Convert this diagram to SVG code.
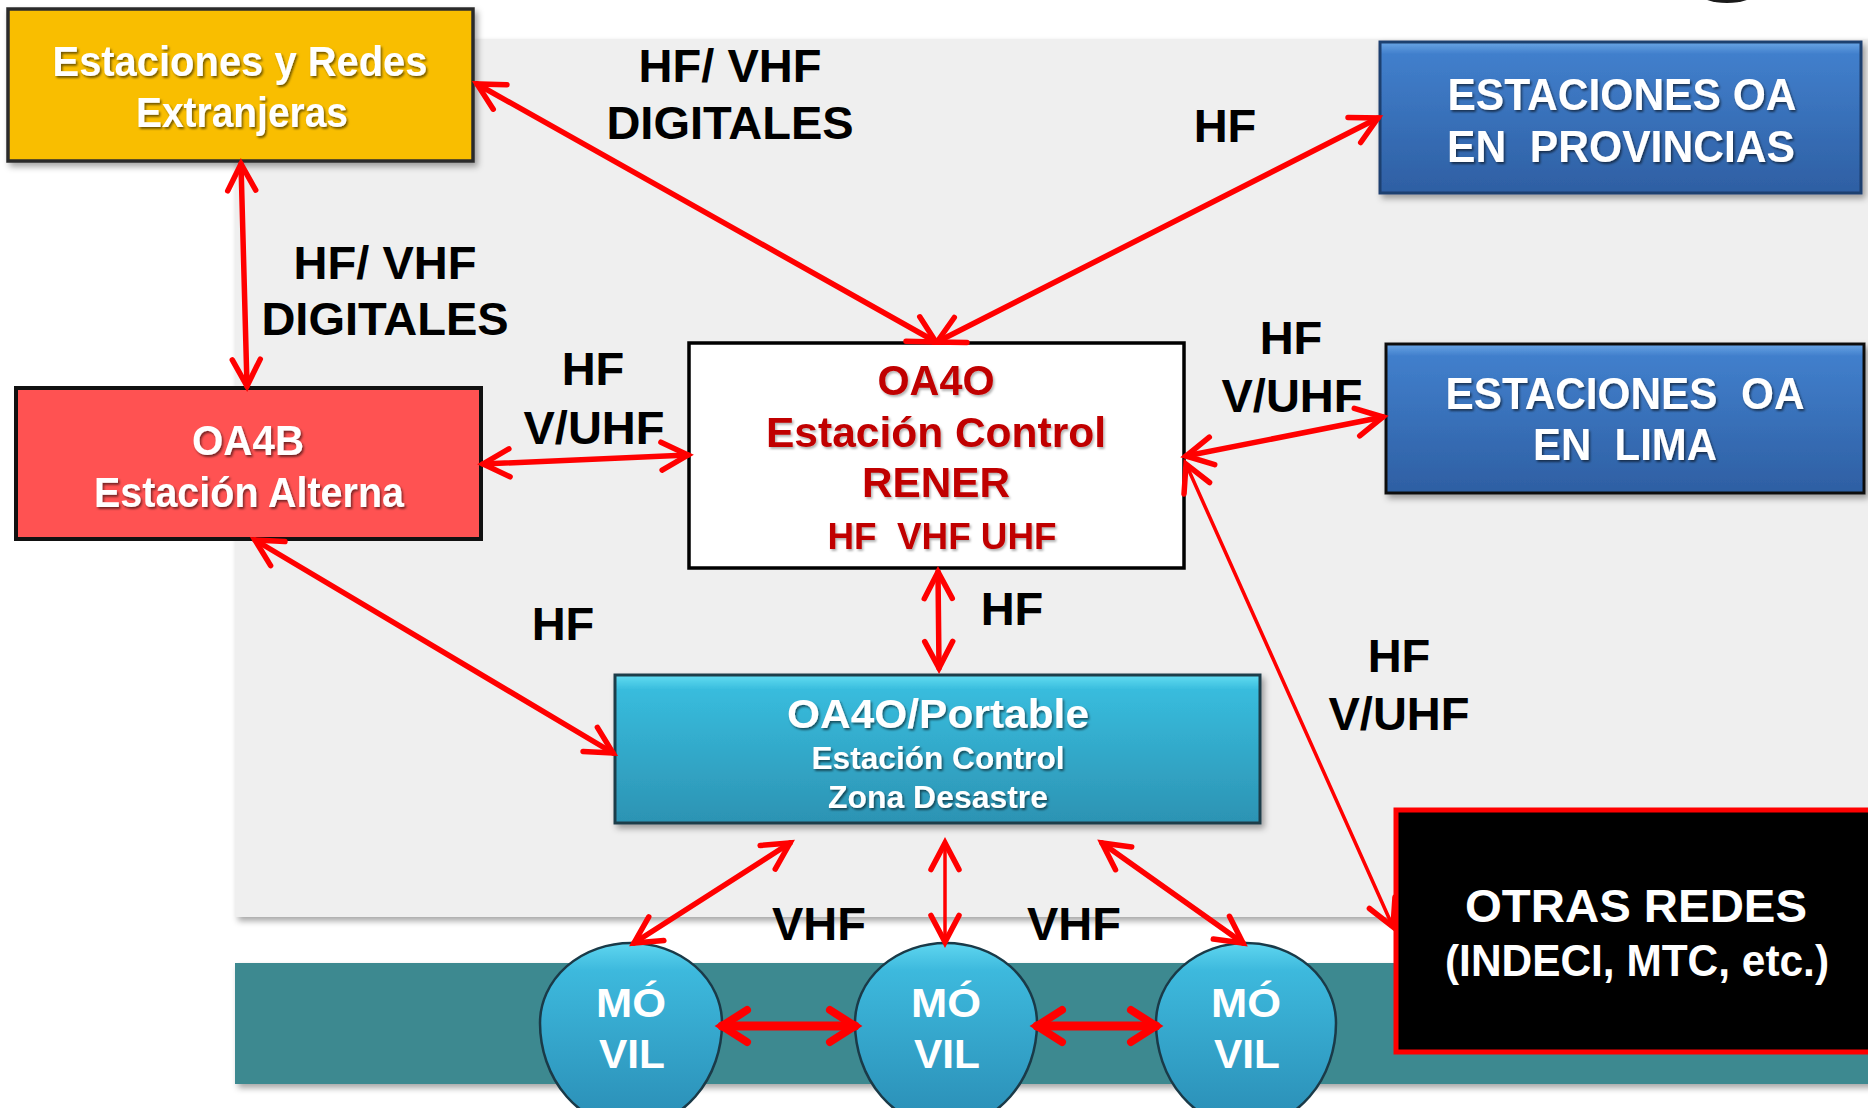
<svg xmlns="http://www.w3.org/2000/svg" width="1868" height="1108" viewBox="0 0 1868 1108">
<style>
.lbl{font-family:"Liberation Sans",Arial,sans-serif;font-weight:bold;font-size:47px;fill:#000;text-anchor:middle}
.wt{font-family:"Liberation Sans",Arial,sans-serif;font-weight:bold;fill:#fff;text-anchor:middle}
.rt{font-family:"Liberation Sans",Arial,sans-serif;font-weight:bold;fill:#C00000;text-anchor:middle}
.cn{fill:none;stroke:#FF0000;stroke-width:5.5;stroke-linecap:round}
.thin{stroke-width:3.5}
.thick{stroke-width:9}
.egg{fill:url(#ell);stroke:#1A3A48;stroke-width:2.5}
</style>
<defs>
<filter id="sh" x="-10%" y="-10%" width="125%" height="130%">
<feDropShadow dx="3" dy="4" stdDeviation="3" flood-color="#000" flood-opacity="0.35"/>
</filter>
<filter id="tsh" x="-10%" y="-20%" width="120%" height="150%">
<feDropShadow dx="1.5" dy="2" stdDeviation="1.2" flood-color="#000" flood-opacity="0.55"/>
</filter>
<filter id="rsh" x="-10%" y="-20%" width="120%" height="150%">
<feDropShadow dx="1.5" dy="2" stdDeviation="1.2" flood-color="#000" flood-opacity="0.3"/>
</filter>
<linearGradient id="blue" x1="0" y1="0" x2="0" y2="1">
<stop offset="0" stop-color="#6AA6E6"/>
<stop offset="0.08" stop-color="#417FCC"/>
<stop offset="1" stop-color="#2E5FA3"/>
</linearGradient>
<linearGradient id="cyan" x1="0" y1="0" x2="0" y2="1">
<stop offset="0" stop-color="#62DDF2"/>
<stop offset="0.1" stop-color="#38BCDD"/>
<stop offset="1" stop-color="#2C93B3"/>
</linearGradient>
<linearGradient id="ell" x1="0" y1="0" x2="0" y2="1">
<stop offset="0" stop-color="#5ED6F0"/>
<stop offset="0.15" stop-color="#3DB9DD"/>
<stop offset="1" stop-color="#2A8DB5"/>
</linearGradient>
<marker id="ah" markerUnits="userSpaceOnUse" viewBox="-32 -20 36 40" markerWidth="36" markerHeight="40" refX="0" refY="0" orient="auto-start-reverse" overflow="visible">
<path d="M-26.5,-14 L0,0 L-26.5,14" fill="none" stroke="#FF0000" stroke-width="5.5" stroke-linecap="round" stroke-linejoin="miter"/>
</marker>
<marker id="ahb" markerUnits="userSpaceOnUse" viewBox="-34 -22 38 44" markerWidth="38" markerHeight="44" refX="0" refY="0" orient="auto-start-reverse" overflow="visible">
<path d="M-25,-16 L0,0 L-25,16" fill="none" stroke="#FF0000" stroke-width="8" stroke-linecap="round" stroke-linejoin="miter"/>
</marker>
</defs>

<rect x="0" y="0" width="1868" height="1108" fill="#FFFFFF"/>
<g id="background">
<rect x="235" y="39" width="1640" height="878" fill="#EFEFEF" filter="url(#sh)"/>
<rect x="235" y="963" width="1640" height="121" fill="#3E8990" filter="url(#sh)"/>
<ellipse cx="1727" cy="-7" rx="28" ry="10" fill="#1a1a1a"/>
</g>

<g id="node-extranjeras">
<rect x="8" y="9" width="465" height="152" fill="#F9BE00" stroke="#2B2B2B" stroke-width="3.5" filter="url(#sh)"/>
<text class="wt" x="240" y="76" font-size="43" textLength="375" lengthAdjust="spacingAndGlyphs" filter="url(#tsh)">Estaciones y Redes</text>
<text class="wt" x="242" y="127" font-size="43" textLength="212" lengthAdjust="spacingAndGlyphs" filter="url(#tsh)">Extranjeras</text>
</g>

<g id="node-oa4b">
<rect x="16" y="388" width="465" height="151" fill="#FF5252" stroke="#111" stroke-width="4"/>
<text class="wt" x="248" y="455" font-size="42" textLength="112" lengthAdjust="spacingAndGlyphs" filter="url(#tsh)">OA4B</text>
<text class="wt" x="249" y="507" font-size="42" textLength="310" lengthAdjust="spacingAndGlyphs" filter="url(#tsh)">Estación Alterna</text>
</g>

<g id="node-oa4o">
<rect x="689" y="343" width="495" height="225" fill="#FFFFFF" stroke="#000" stroke-width="3.5"/>
<text class="rt" x="936" y="395" font-size="42" textLength="117" lengthAdjust="spacingAndGlyphs" filter="url(#rsh)">OA4O</text>
<text class="rt" x="936" y="447" font-size="42" textLength="340" lengthAdjust="spacingAndGlyphs" filter="url(#rsh)">Estación Control</text>
<text class="rt" x="936" y="497" font-size="42" textLength="148" lengthAdjust="spacingAndGlyphs" filter="url(#rsh)">RENER</text>
<text class="rt" x="942" y="549" font-size="36" textLength="229" lengthAdjust="spacingAndGlyphs" filter="url(#rsh)" xml:space="preserve">HF  VHF UHF</text>
</g>

<g id="node-provincias">
<rect x="1380" y="42" width="481" height="151" fill="url(#blue)" stroke="#1F3F6F" stroke-width="3" filter="url(#sh)"/>
<text class="wt" x="1622" y="110" font-size="44" textLength="349" lengthAdjust="spacingAndGlyphs" filter="url(#tsh)">ESTACIONES OA</text>
<text class="wt" x="1621" y="162" font-size="44" textLength="348" lengthAdjust="spacingAndGlyphs" filter="url(#tsh)" xml:space="preserve">EN  PROVINCIAS</text>
</g>

<g id="node-lima">
<rect x="1386" y="344" width="478" height="149" fill="url(#blue)" stroke="#111" stroke-width="3" filter="url(#sh)"/>
<text class="wt" x="1625" y="409" font-size="44" textLength="359" lengthAdjust="spacingAndGlyphs" filter="url(#tsh)" xml:space="preserve">ESTACIONES  OA</text>
<text class="wt" x="1625" y="460" font-size="44" textLength="184" lengthAdjust="spacingAndGlyphs" filter="url(#tsh)" xml:space="preserve">EN  LIMA</text>
</g>

<g id="node-portable">
<rect x="615" y="675" width="645" height="148" fill="url(#cyan)" stroke="#1E3D4A" stroke-width="3" filter="url(#sh)"/>
<text class="wt" x="938" y="728" font-size="41" textLength="302" lengthAdjust="spacingAndGlyphs" filter="url(#tsh)">OA4O/Portable</text>
<text class="wt" x="938" y="769" font-size="31" textLength="253" lengthAdjust="spacingAndGlyphs" filter="url(#tsh)">Estación Control</text>
<text class="wt" x="938" y="808" font-size="31" textLength="220" lengthAdjust="spacingAndGlyphs" filter="url(#tsh)">Zona Desastre</text>
</g>

<g id="node-otras">
<rect x="1396" y="810" width="480" height="242" fill="#000" stroke="#FF0000" stroke-width="5"/>
<text class="wt" x="1636" y="922" font-size="46" textLength="342" lengthAdjust="spacingAndGlyphs">OTRAS REDES</text>
<text class="wt" x="1637" y="976" font-size="44" textLength="384" lengthAdjust="spacingAndGlyphs">(INDECI, MTC, etc.)</text>
</g>

<g id="node-movil1">
<path class="egg" d="M540,1023 A91,80 0 0 1 722,1023 A91,104 0 0 1 540,1023 Z"/>
<text class="wt" x="631" y="1017" font-size="40" textLength="70" lengthAdjust="spacingAndGlyphs">MÓ</text>
<text class="wt" x="632" y="1068" font-size="40" textLength="66" lengthAdjust="spacingAndGlyphs">VIL</text>
</g>
<g id="node-movil2">
<path class="egg" d="M855,1023 A91,80 0 0 1 1037,1023 A91,104 0 0 1 855,1023 Z"/>
<text class="wt" x="946" y="1017" font-size="40" textLength="70" lengthAdjust="spacingAndGlyphs">MÓ</text>
<text class="wt" x="947" y="1068" font-size="40" textLength="66" lengthAdjust="spacingAndGlyphs">VIL</text>
</g>
<g id="node-movil3">
<path class="egg" d="M1156,1023 A90,80 0 0 1 1336,1023 A90,104 0 0 1 1156,1023 Z"/>
<text class="wt" x="1246" y="1017" font-size="40" textLength="70" lengthAdjust="spacingAndGlyphs">MÓ</text>
<text class="wt" x="1247" y="1068" font-size="40" textLength="66" lengthAdjust="spacingAndGlyphs">VIL</text>
</g>

<g id="connectors">
<line class="cn" x1="241" y1="164" x2="247" y2="386" marker-start="url(#ah)" marker-end="url(#ah)"/>
<line class="cn" x1="477" y1="84" x2="936" y2="342" marker-start="url(#ah)" marker-end="url(#ah)"/>
<line class="cn" x1="937" y1="342" x2="1378" y2="118" marker-start="url(#ah)" marker-end="url(#ah)"/>
<line class="cn" x1="483" y1="464" x2="688" y2="455" marker-start="url(#ah)" marker-end="url(#ah)"/>
<line class="cn" x1="1186" y1="456" x2="1383" y2="417" marker-start="url(#ah)" marker-end="url(#ah)"/>
<line class="cn thin" x1="1186" y1="464" x2="1393" y2="927" marker-start="url(#ah)" marker-end="url(#ah)"/>
<line class="cn" x1="255" y1="540" x2="613" y2="753" marker-start="url(#ah)" marker-end="url(#ah)"/>
<line class="cn" x1="938" y1="572" x2="939" y2="668" marker-start="url(#ah)" marker-end="url(#ah)"/>
<line class="cn" x1="790" y1="843" x2="634" y2="943" marker-start="url(#ah)" marker-end="url(#ah)"/>
<line class="cn thin" x1="945" y1="843" x2="945" y2="942" marker-start="url(#ah)" marker-end="url(#ah)"/>
<line class="cn" x1="1102" y1="843" x2="1243" y2="943" marker-start="url(#ah)" marker-end="url(#ah)"/>
<line class="cn thick" x1="722" y1="1026" x2="855" y2="1026" marker-start="url(#ahb)" marker-end="url(#ahb)"/>
<line class="cn thick" x1="1037" y1="1026" x2="1156" y2="1026" marker-start="url(#ahb)" marker-end="url(#ahb)"/>
</g>

<g id="labels">
<text class="lbl" x="730" y="82">HF/ VHF</text>
<text class="lbl" x="730" y="139">DIGITALES</text>
<text class="lbl" x="385" y="279">HF/ VHF</text>
<text class="lbl" x="385" y="335">DIGITALES</text>
<text class="lbl" x="1225" y="142">HF</text>
<text class="lbl" x="593" y="385">HF</text>
<text class="lbl" x="594" y="444">V/UHF</text>
<text class="lbl" x="1291" y="354">HF</text>
<text class="lbl" x="1292" y="412">V/UHF</text>
<text class="lbl" x="563" y="640">HF</text>
<text class="lbl" x="1012" y="625">HF</text>
<text class="lbl" x="1399" y="672">HF</text>
<text class="lbl" x="1399" y="730">V/UHF</text>
<text class="lbl" x="819" y="940">VHF</text>
<text class="lbl" x="1074" y="940">VHF</text>
</g>
</svg>
